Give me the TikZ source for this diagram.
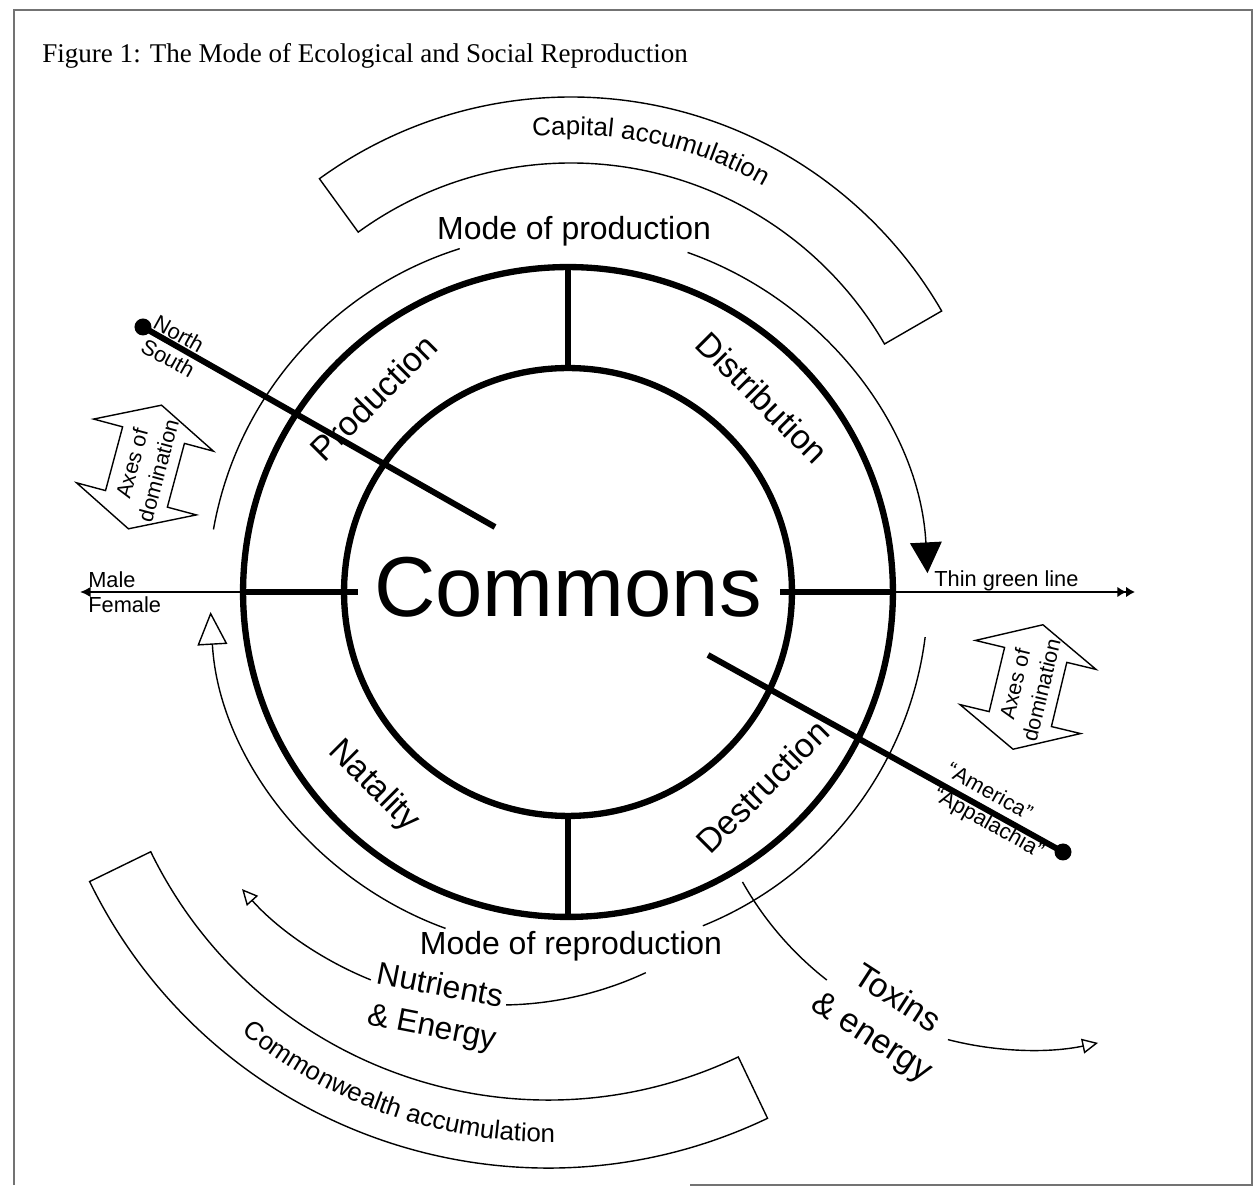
\documentclass[tikz,border=0pt]{standalone}
\usepackage{fontspec}
\setmainfont{Liberation Sans}
\newfontfamily\titlefont{Liberation Serif}
\usepackage{tikz}
\usetikzlibrary{arrows.meta}
\usetikzlibrary{decorations.text}
\newcommand{\accfont}{\fontsize{14.7}{17}\selectfont}

\begin{document}
\begin{tikzpicture}[x=0.02cm, y=0.02cm,
    ring/.style={circle, draw, line width=3.6pt, inner sep=0pt, outer sep=0pt},
    spoke/.style={line width=2.9pt},
    thinarc/.style={line width=0.8pt},
    axisline/.style={line width=3.4pt},
    dot/.style={circle, fill, inner sep=0pt, minimum size=0.34cm},
    sector/.style={font=\fontsize{19.3}{23}\selectfont},
    smalltxt/.style={font=\fontsize{12.4}{14}\selectfont, inner sep=0pt}]

    \useasboundingbox (-568,-597) rectangle (690,592);

    % Frame and title
    \draw[black!55, line width=0.6pt] (-554,-593) -- (-554,582) -- (684,582) -- (684,-593) -- (122,-593);
    \node[anchor=base west, inner sep=0pt, font=\titlefont\fontsize{15.4}{18}\selectfont] (title) at (-526,529) {Figure 1: The Mode of Ecological and Social Reproduction};

    % Rings
    \node[ring, minimum size=13cm] (ringout) at (0,0) {};
    \node[ring, minimum size=8.96cm] (ringin) at (0,0) {};
    \draw[spoke] (ringin.north) -- (ringout.north);
    \draw[spoke] (ringin.south) -- (ringout.south);

    % Centre and sectors
    \node[font=\fontsize{48.4}{56}\selectfont, anchor=base, inner sep=0pt] (commons) at (0,-25) {Commons};
    \node[sector, rotate=45] (prod) at (135:275) {Production};
    \node[sector, rotate=-45] (dist) at (45:275) {Distribution};
    \node[sector, rotate=-45] (nat) at (225:275) {Natality};
    \node[sector, rotate=45] (dest) at (315:275) {Destruction};

    % Modes
    \node[font=\fontsize{18.2}{22}\selectfont, anchor=base, inner sep=0pt] (modeprod) at (6,352) {Mode of production};
    \node[font=\fontsize{18.2}{22}\selectfont, anchor=base, inner sep=0pt] (moderepr) at (3,-363) {Mode of reproduction};

    % Cycle
    \draw[thinarc] (170:360) arc[start angle=170, end angle=107.5, radius=360];
    \draw[thinarc, -{Triangle[length=17.5pt, width=18pt]}] (70.6:360) arc[start angle=70.6, end angle=3, radius=360];
    \draw[thinarc] (-7.2:360) arc[start angle=-7.2, end angle=-68, radius=360];
    \draw[thinarc, -{Triangle[open, length=18.7pt, width=17pt]}] (-110:358) arc[start angle=-110, end angle=-176.8, radius=358];

    % Capital band
    \draw[thinarc] ([shift={(3,67)}]126:428) arc[start angle=126, end angle=30, radius=428]
        -- ([shift={(3,67)}]30:362) arc[start angle=30, end angle=126, radius=362] -- cycle;
    \path[decorate, decoration={text along path, text align=center, text={|\accfont|Capital accumulation}}]
        ([shift={(3,67)}]126:390) arc[start angle=126, end angle=30, radius=390];

    % Commonwealth band
    \draw[thinarc] ([shift={(-20,-66)}]206:510) arc[start angle=206, end angle=295.5, radius=510]
        -- ([shift={(-20,-66)}]295.5:442) arc[start angle=295.5, end angle=206, radius=442] -- cycle;
    \path[decorate, decoration={text along path, text align=center, text={|\accfont|Commonwealth accumulation}}]
        ([shift={(-20,-66)}]206:484) arc[start angle=206, end angle=295.5, radius=484];

    % North - South
    \node[dot] (northdot) at (-425,265) {};
    \coordinate (nsend) at (-73,65);
    \draw[axisline] (northdot.center) -- (nsend);
    \node[smalltxt, rotate=-29] (north) at (-389,258) {North};
    \node[smalltxt, rotate=-29] (south) at (-400,234) {South};

    % America - Appalachia
    \coordinate (aastart) at (140,-63);
    \node[dot] (appdot) at (495,-260) {};
    \draw[axisline] (aastart) -- (appdot.center);
    \node[smalltxt, rotate=-29] (america) at (422,-199) {“America”};
    \node[smalltxt, rotate=-29] (appalachia) at (420,-232) {“Appalachia”};

    % Male - Female
    \coordinate (mfin) at (-210,0);
    \coordinate (mfout) at (-488,0);
    \draw[spoke] (mfin) -- (ringout.west);
    \draw[line width=1.7pt, -{Latex[length=6pt, width=6pt]}] (ringout.west) -- (mfout);
    \node[smalltxt, anchor=base west] (male) at (-480,4) {Male};
    \node[smalltxt, anchor=base west] (female) at (-480,-21) {Female};

    % Thin green line
    \coordinate (tglin) at (212,0);
    \coordinate (tglout) at (567,0);
    \draw[spoke] (tglin) -- (ringout.east);
    \draw[line width=1.7pt, -{Latex[length=5pt, width=6pt]Latex[length=5pt, width=6pt]}] (ringout.east) -- (tglout);
    \node[smalltxt, anchor=base west] (tgl) at (366,5) {Thin green line};

    % Axes of domination
    \begin{scope}[shift={(-423,125)}, rotate=75]
        \draw[thinarc] (64,0) -- (33,62) -- (33,32) -- (-33,32) -- (-33,62) -- (-64,0)
            -- (-33,-62) -- (-33,-32) -- (33,-32) -- (33,-62) -- cycle;
    \end{scope}
    \node[rotate=75, align=center, font=\fontsize{12.2}{15.5}\selectfont] (axesleft) at (-423,125) {Axes of\\domination};
    \begin{scope}[shift={(460,-95)}, rotate=76.5]
        \draw[thinarc] (64,0) -- (33,62) -- (33,32) -- (-33,32) -- (-33,62) -- (-64,0)
            -- (-33,-62) -- (-33,-32) -- (33,-32) -- (33,-62) -- cycle;
    \end{scope}
    \node[rotate=76.5, align=center, font=\fontsize{12.2}{15.5}\selectfont] (axesright) at (460,-95) {Axes of\\domination};

    % Nutrients & Energy
    \draw[thinarc] ([shift={(-68,-68)}]-65:345) arc[start angle=-65, end angle=-89, radius=345];
    \draw[thinarc, -{Triangle[open, length=9pt, width=8.5pt]}] ([shift={(-68,-68)}]-112:345) arc[start angle=-112, end angle=-138.4, radius=345];
    \node[font=\fontsize{18.1}{23.8}\selectfont, rotate=-11, align=center] (nutri) at (-132,-416) {Nutrients\\\& Energy};

    % Toxins & energy
    \draw[thinarc] ([shift={(462,-128)}]209.4:330) arc[start angle=209.4, end angle=232, radius=330];
    \draw[thinarc, -{Triangle[open, length=9pt, width=8.5pt]}] ([shift={(462,-128)}]255.6:330) arc[start angle=255.6, end angle=281.9, radius=330];
    \node[font=\fontsize{19.3}{26}\selectfont, rotate=-33, align=center] (toxins) at (316,-427) {Toxins\\\& energy};
\end{tikzpicture}
\end{document}
